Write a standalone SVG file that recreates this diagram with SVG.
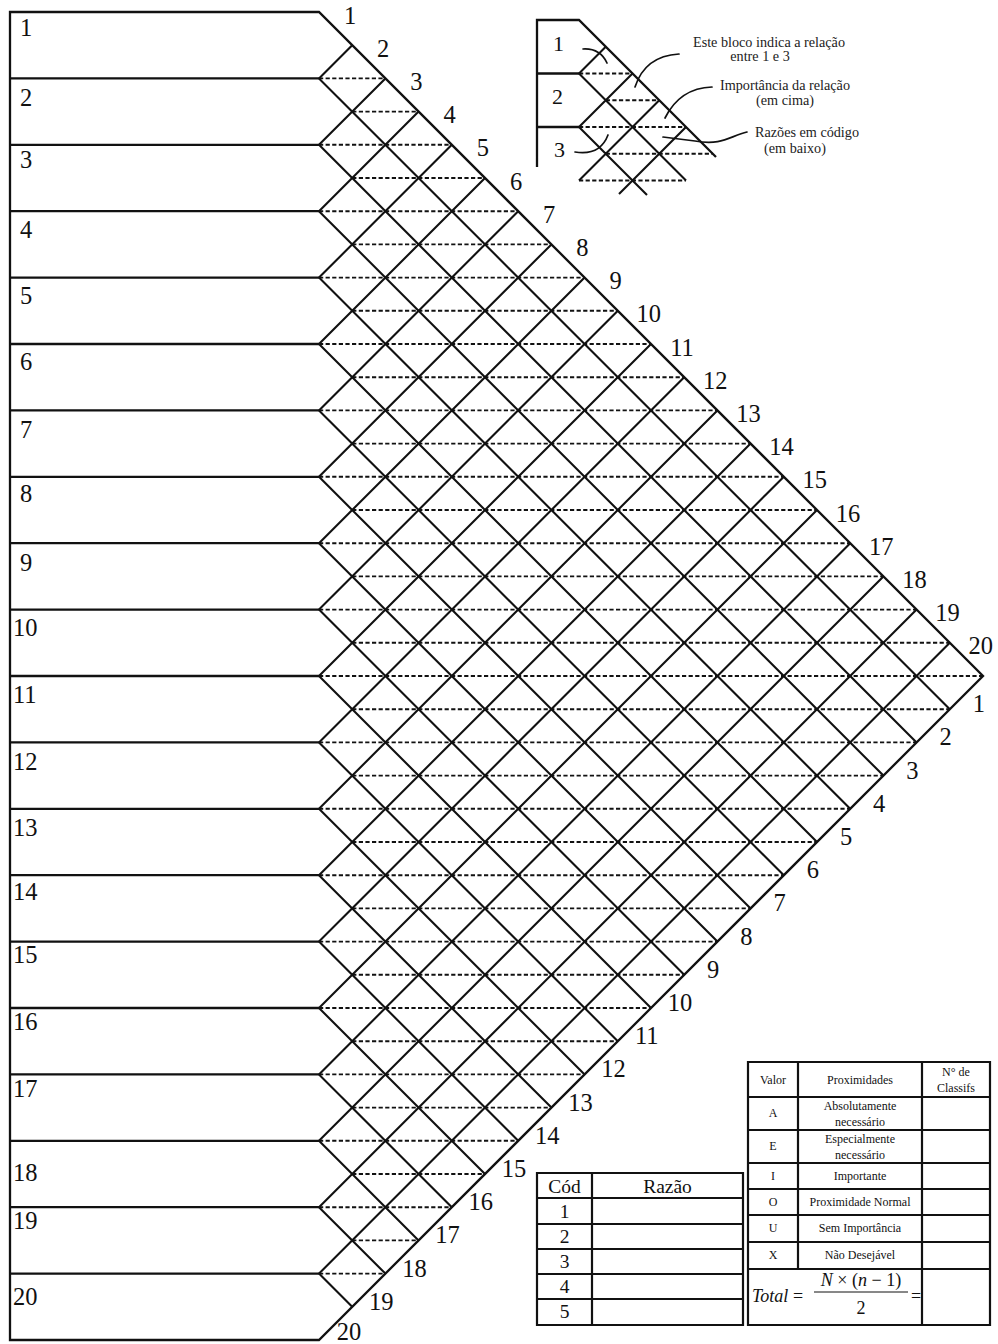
<svg xmlns="http://www.w3.org/2000/svg" width="998" height="1344" viewBox="0 0 998 1344">
<style>
.ln{fill:none;stroke:#111;stroke-width:2.3}
.gr{fill:none;stroke:#111;stroke-width:2.1}
.ds{fill:none;stroke:#111;stroke-width:1.9;stroke-dasharray:4.2 2.4}
.cv{fill:none;stroke:#111;stroke-width:1.7;stroke-linecap:round}
.tb{fill:none;stroke:#111;stroke-width:2.2}
.n{font-family:"Liberation Serif","Times New Roman",serif;font-size:24.5px;fill:#111}
.m{text-anchor:middle}
.s{font-family:"Liberation Serif","Times New Roman",serif;font-size:14.2px;fill:#222;text-anchor:middle}
.t{font-family:"Liberation Serif","Times New Roman",serif;font-size:12px;fill:#111;text-anchor:middle}
.c{font-family:"Liberation Serif","Times New Roman",serif;font-size:19.5px;fill:#111;text-anchor:middle}
.f{font-family:"Liberation Serif","Times New Roman",serif;font-size:18px;fill:#111}
</style>
<rect width="998" height="1344" fill="#fff"/>

<g id="frame">
<path class="ln" d="M10,12 H319 L983,676 L319,1340 H10 Z"/>
<path class="ln" d="M10,78.4H319 M10,144.8H319 M10,211.2H319 M10,277.6H319 M10,344H319 M10,410.4H319 M10,476.8H319 M10,543.2H319 M10,609.6H319 M10,676H319 M10,742.4H319 M10,808.8H319 M10,875.2H319 M10,941.6H319 M10,1008H319 M10,1074.4H319 M10,1140.8H319 M10,1207.2H319 M10,1273.6H319"/>
</g>

<g id="grid">
<path class="gr" d="M319,78.4L352.2,45.2 M319,144.8L385.4,78.4 M319,211.2L418.6,111.6 M319,277.6L451.8,144.8 M319,344L485,178 M319,410.4L518.2,211.2 M319,476.8L551.4,244.4 M319,543.2L584.6,277.6 M319,609.6L617.8,310.8 M319,676L651,344 M319,742.4L684.2,377.2 M319,808.8L717.4,410.4 M319,875.2L750.6,443.6 M319,941.6L783.8,476.8 M319,1008L817,510 M319,1074.4L850.2,543.2 M319,1140.8L883.4,576.4 M319,1207.2L916.6,609.6 M319,1273.6L949.8,642.8"/>
<path class="gr" d="M319,78.4L949.8,709.2 M319,144.8L916.6,742.4 M319,211.2L883.4,775.6 M319,277.6L850.2,808.8 M319,344L817,842 M319,410.4L783.8,875.2 M319,476.8L750.6,908.4 M319,543.2L717.4,941.6 M319,609.6L684.2,974.8 M319,676L651,1008 M319,742.4L617.8,1041.2 M319,808.8L584.6,1074.4 M319,875.2L551.4,1107.6 M319,941.6L518.2,1140.8 M319,1008L485,1174 M319,1074.4L451.8,1207.2 M319,1140.8L418.6,1240.4 M319,1207.2L385.4,1273.6 M319,1273.6L352.2,1306.8"/>
<path class="ds" d="M319,78.4H385.4 M352.2,111.6H418.6 M319,144.8H451.8 M352.2,178H485 M319,211.2H518.2 M352.2,244.4H551.4 M319,277.6H584.6 M352.2,310.8H617.8 M319,344H651 M352.2,377.2H684.2 M319,410.4H717.4 M352.2,443.6H750.6 M319,476.8H783.8 M352.2,510H817 M319,543.2H850.2 M352.2,576.4H883.4 M319,609.6H916.6 M352.2,642.8H949.8 M319,676H983 M352.2,709.2H949.8 M319,742.4H916.6 M352.2,775.6H883.4 M319,808.8H850.2 M352.2,842H817 M319,875.2H783.8 M352.2,908.4H750.6 M319,941.6H717.4 M352.2,974.8H684.2 M319,1008H651 M352.2,1041.2H617.8 M319,1074.4H584.6 M352.2,1107.6H551.4 M319,1140.8H518.2 M352.2,1174H485 M319,1207.2H451.8 M352.2,1240.4H418.6 M319,1273.6H385.4"/>
</g>

<g id="row-labels" class="n">
<text x="20" y="36">1</text>
<text x="20" y="106">2</text>
<text x="20" y="168">3</text>
<text x="20" y="238">4</text>
<text x="20" y="304">5</text>
<text x="20" y="370">6</text>
<text x="20" y="438">7</text>
<text x="20" y="502">8</text>
<text x="20" y="571">9</text>
<text x="13" y="636">10</text>
<text x="13" y="703">11</text>
<text x="13" y="770">12</text>
<text x="13" y="836">13</text>
<text x="13" y="900">14</text>
<text x="13" y="963">15</text>
<text x="13" y="1030">16</text>
<text x="13" y="1097">17</text>
<text x="13" y="1181">18</text>
<text x="13" y="1229">19</text>
<text x="13" y="1305">20</text>
</g>

<g id="top-edge-labels" class="n m">
<text x="350" y="23.5">1</text>
<text x="383.2" y="56.7">2</text>
<text x="416.4" y="89.9">3</text>
<text x="449.6" y="123.1">4</text>
<text x="482.8" y="156.3">5</text>
<text x="516" y="189.5">6</text>
<text x="549.2" y="222.7">7</text>
<text x="582.4" y="255.9">8</text>
<text x="615.6" y="289.1">9</text>
<text x="648.8" y="322.3">10</text>
<text x="682" y="355.5">11</text>
<text x="715.2" y="388.7">12</text>
<text x="748.4" y="421.9">13</text>
<text x="781.6" y="455.1">14</text>
<text x="814.8" y="488.3">15</text>
<text x="848" y="521.5">16</text>
<text x="881.2" y="554.7">17</text>
<text x="914.4" y="587.9">18</text>
<text x="947.6" y="621.1">19</text>
<text x="980.8" y="654.3">20</text>
</g>

<g id="bottom-edge-labels" class="n m">
<text x="978.8" y="712.2">1</text>
<text x="945.6" y="745.4">2</text>
<text x="912.4" y="778.6">3</text>
<text x="879.2" y="811.8">4</text>
<text x="846" y="845">5</text>
<text x="812.8" y="878.2">6</text>
<text x="779.6" y="911.4">7</text>
<text x="746.4" y="944.6">8</text>
<text x="713.2" y="977.8">9</text>
<text x="680" y="1011">10</text>
<text x="646.8" y="1044.2">11</text>
<text x="613.6" y="1077.4">12</text>
<text x="580.4" y="1110.6">13</text>
<text x="547.2" y="1143.8">14</text>
<text x="514" y="1177">15</text>
<text x="480.8" y="1210.2">16</text>
<text x="447.6" y="1243.4">17</text>
<text x="414.4" y="1276.6">18</text>
<text x="381.2" y="1309.8">19</text>
<text x="349" y="1340">20</text>
</g>

<g id="inset">
<path class="ln" d="M537,167 V20 H579 L716,157 M537,73.5H579 M537,127H579"/>
<path class="gr" d="M579,73.5L605.75,46.75 M579,127L632.5,73.5 M579,180.5L659.25,100.25 M619,194L686,127 M579,73.5L686,180.5 M579,127L647,195"/>
<path class="ds" d="M579,73.5H632.5 M605.75,100.25H659.25 M579,127H686 M605.75,153.75H712.75 M579,180.5H686"/>
<text class="n" x="553" y="51" style="font-size:22px">1</text>
<text class="n" x="552" y="104" style="font-size:22px">2</text>
<text class="n" x="554" y="157" style="font-size:22px">3</text>
<path class="cv" d="M583,49 Q600,48 607,63"/>
<path class="cv" d="M575,152 Q600,156 608,135"/>
<path class="cv" d="M679,54 Q645,56 635,87"/>
<path class="cv" d="M712,87 Q680,88 665,118"/>
<path class="cv" d="M747,132 C730,136 722,146 695,141 L663,137"/>
<text class="s" x="769" y="47">Este bloco indica a relação</text>
<text class="s" x="760" y="61">entre 1 e 3</text>
<text class="s" x="785" y="90">Importância da relação</text>
<text class="s" x="785" y="105">(em cima)</text>
<text class="s" x="807" y="137">Razões em código</text>
<text class="s" x="795" y="153">(em baixo)</text>
</g>

<g id="code-table">
<path class="tb" d="M537,1173H743V1325H537Z M592,1173V1325 M537,1198H743 M537,1224H743 M537,1249H743 M537,1274H743 M537,1299H743"/>
<text class="c" x="564.5" y="1193">Cód</text>
<text class="c" x="667.5" y="1193">Razão</text>
<text class="c" x="564.5" y="1218">1</text>
<text class="c" x="564.5" y="1243">2</text>
<text class="c" x="564.5" y="1268">3</text>
<text class="c" x="564.5" y="1293">4</text>
<text class="c" x="564.5" y="1318">5</text>
</g>

<g id="proximity-table">
<path class="tb" d="M748,1062H990V1325H748Z M798,1062V1269 M922,1062V1325 M748,1097H990 M748,1130H990 M748,1163H990 M748,1189H990 M748,1215H990 M748,1242H990 M748,1269H990"/>
<text class="t" x="773" y="1084">Valor</text>
<text class="t" x="860" y="1084">Proximidades</text>
<text class="t" x="956" y="1076">N° de</text>
<text class="t" x="956" y="1092">Classifs</text>
<text class="t" x="773" y="1117">A</text>
<text class="t" x="860" y="1110">Absolutamente</text>
<text class="t" x="860" y="1126">necessário</text>
<text class="t" x="773" y="1150">E</text>
<text class="t" x="860" y="1143">Especialmente</text>
<text class="t" x="860" y="1159">necessário</text>
<text class="t" x="773" y="1180">I</text>
<text class="t" x="860" y="1180">Importante</text>
<text class="t" x="773" y="1206">O</text>
<text class="t" x="860" y="1206">Proximidade Normal</text>
<text class="t" x="773" y="1232">U</text>
<text class="t" x="860" y="1232">Sem Importância</text>
<text class="t" x="773" y="1259">X</text>
<text class="t" x="860" y="1259">Não Desejável</text>
<text class="f" x="752" y="1302"><tspan font-style="italic">Total</tspan> =</text>
<text class="f" x="861" y="1286" text-anchor="middle"><tspan font-style="italic">N</tspan> × (<tspan font-style="italic">n</tspan> − 1)</text>
<path d="M814,1292H908" stroke="#111" stroke-width="1"/>
<text class="f" x="861" y="1314" text-anchor="middle">2</text>
<text class="f" x="911" y="1302">=</text>
</g>
</svg>
